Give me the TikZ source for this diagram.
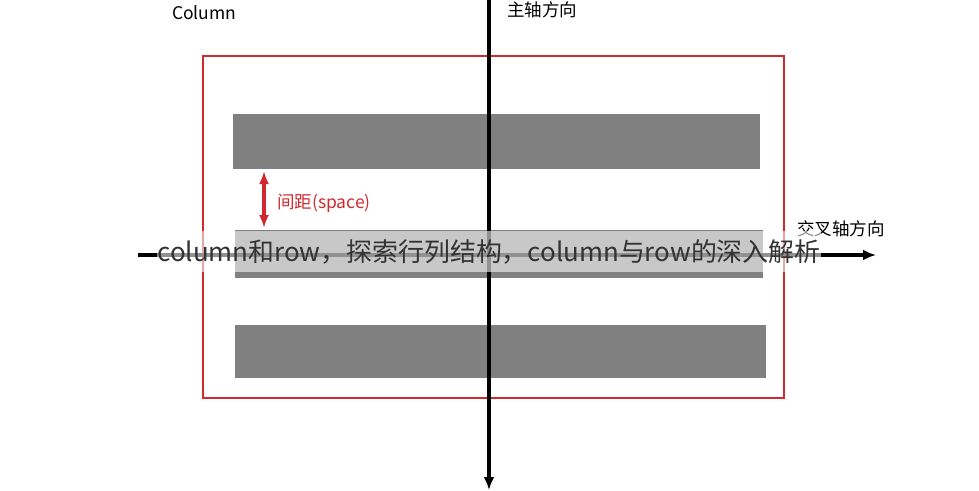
\documentclass[tikz,border=0pt]{standalone}
\usepackage{fontspec}
\setmainfont{Noto Sans CJK SC}
\usepackage{xcolor}
\usetikzlibrary{arrows.meta}
\definecolor{barGray}{HTML}{808080}
\definecolor{boxRed}{HTML}{D02A2F}
\definecolor{markText}{HTML}{333333}

\begin{document}
\begin{tikzpicture}[x=1pt,y=-1pt]
\tikzset{>={Latex[width=11pt,length=13pt]}}
\tikzstyle{bar} =[rectangle, fill = barGray, inner sep=0pt, anchor=north west]
\tikzstyle{axis} =[->, line width=3.4pt, black]
\tikzstyle{tag} =[anchor=west, inner sep=0pt, font=\fontsize{17.5}{20}\selectfont]

\useasboundingbox (0,0) rectangle (979,490);

\node[bar, minimum width=527pt, minimum height=55pt](bar1) at (233,114){};
\node[bar, minimum width=528pt, minimum height=48pt](bar2) at (235,230){};
\node[bar, minimum width=531pt, minimum height=53pt](bar3) at (235,325){};

\node[draw=boxRed, line width=1.6pt, rectangle, inner sep=0pt, anchor=north west,
      minimum width=581pt, minimum height=342pt](frame) at (202,55){};

\coordinate (mainTop) at (489,0);
\coordinate (mainEnd) at (489,490);
\coordinate (crossStart) at (138,255);
\coordinate (crossEnd) at (876,255);
\draw[axis] (mainTop) -- (mainEnd);
\draw[axis] (crossStart) -- (crossEnd);

\coordinate (gapTop) at (264,171);
\coordinate (gapBot) at (264,228);
\draw[<->, boxRed, line width=3.4pt, >={Latex[width=10pt,length=13pt]}] (gapTop) -- (gapBot);

\node[tag](colLabel) at (172,13){Column};
\node[tag](mainLabel) at (507,10){主轴方向};
\node[tag](crossLabel) at (797,229){交叉轴方向};
\node[tag, text=boxRed](gapLabel) at (277,203){间距(space)};

\node[fill=white, fill opacity=0.57, text opacity=1, text=markText, inner xsep=0pt,
      minimum height=41pt, font=\fontsize{25.9}{28}\selectfont](mark) at (489,251.5)
      {column和row，探索行列结构，column与row的深入解析};
\end{tikzpicture}
\end{document}
